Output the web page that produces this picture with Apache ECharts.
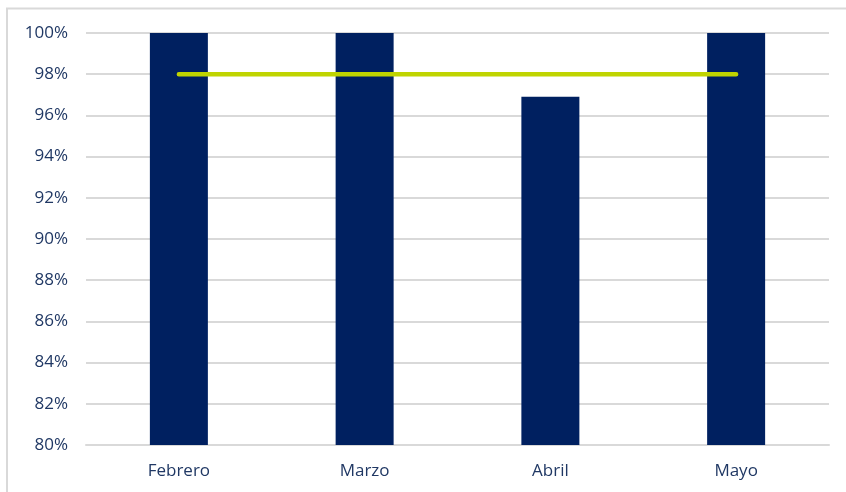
<!DOCTYPE html>
<html>
<head>
<meta charset="utf-8">
<script src="https://cdn.jsdelivr.net/npm/echarts@6/dist/echarts.min.js"></script>
<style>
html,body{margin:0;padding:0;background:#fff;}
#c{width:846px;height:492px;}
</style>
</head>
<body>
<div id="c"></div>
<script>
var categories = ['Febrero', 'Marzo', 'Abril', 'Mayo'];
var actualValues = [100, 100, 96.9, 100];
var targetValues = [98, 98, 98, 98];
var yMin = 80, yMax = 100, yStep = 2;

var chart = echarts.init(document.getElementById('c'), null, {renderer: 'canvas'});
chart.setOption({
  animation: false,
  backgroundColor: '#ffffff',
  graphic: [{
    type: 'rect', silent: true, z: -10,
    shape: {x: 7, y: 8.5, width: 900, height: 600},
    style: {fill: 'none', stroke: '#d9d9d9', lineWidth: 2}
  }],
  grid: {left: 86, right: 17, top: 33, bottom: 47, containLabel: false},
  xAxis: {
    type: 'category',
    data: categories,
    axisLine: {show: true, lineStyle: {color: '#d9d9d9', width: 2}},
    axisTick: {show: false},
    axisLabel: {color: '#203864', fontSize: 17, fontFamily: 'Open Sans, Liberation Sans, sans-serif', margin: 18}
  },
  yAxis: {
    type: 'value',
    min: yMin, max: yMax, interval: yStep,
    axisLine: {show: false},
    axisTick: {show: false},
    splitLine: {lineStyle: {color: '#d9d9d9', width: 2}},
    axisLabel: {color: '#203864', fontSize: 17, fontFamily: 'Open Sans, Liberation Sans, sans-serif', margin: 18,
      formatter: function (v) { return v + '%'; }}
  },
  series: [{
    type: 'bar',
    data: actualValues,
    barWidth: 58,
    itemStyle: {color: '#002060'},
    z: 2
  }, {
    type: 'line',
    data: targetValues,
    symbol: 'none',
    lineStyle: {color: '#bfd400', width: 4.5, cap: 'round'},
    z: 3
  }]
});
</script>
</body>
</html>
